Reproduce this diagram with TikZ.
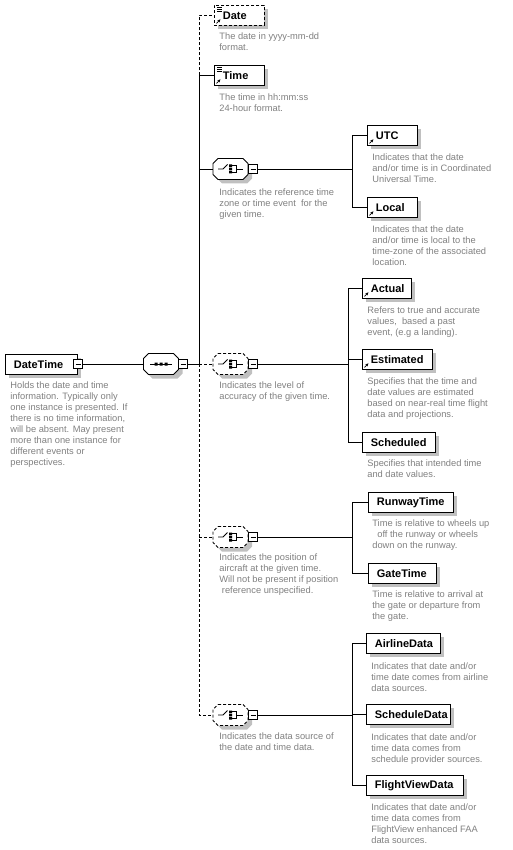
\documentclass[tikz,border=0pt]{standalone}
\usepackage{fontspec}
\setmainfont{Liberation Sans}
\usetikzlibrary{arrows.meta,shadows,calc}
\definecolor{descgray}{RGB}{128,128,128}
\definecolor{shadowgray}{RGB}{192,192,192}

% octagon with shadow, #1 centre, #2 border style
\newcommand{\octa}[2]{%
  \fill[shadowgray] ($(#1)+(4,4)$) ++(-12.5,-10.5) -- ++(25,0) -- ++(5,5) -- ++(0,11)
    -- ++(-5,5) -- ++(-25,0) -- ++(-5,-5) -- ++(0,-11) -- cycle;
  \draw[fill=white, #2] (#1) ++(-12.5,-10.5) -- ++(25,0) -- ++(5,5) -- ++(0,11)
    -- ++(-5,5) -- ++(-25,0) -- ++(-5,-5) -- ++(0,-11) -- cycle;}

\tikzset{
  boxshadow/.style={drop shadow={shadow xshift=4pt, shadow yshift=-4pt, fill=shadowgray, opacity=1}},
  elem/.style={draw, fill=white, boxshadow, font=\fontsize{11}{13}\selectfont\bfseries,
    minimum height=20pt, inner sep=0pt, anchor=north west, text width=#1, align=left,
    execute at begin node={\hspace*{8.5pt}}},
  refd/.style={path picture={
    \draw[solid, line width=.7pt, -{Stealth[length=3pt,width=3pt]}]
      ([shift={(2,-2)}]path picture bounding box.south west) -- ++(4,-4);}},
  refl/.style={path picture={
    \draw[solid, line width=.7pt, -{Stealth[length=3pt,width=3pt]}]
      ([shift={(2,-2)}]path picture bounding box.south west) -- ++(4,-4);
    \draw[solid, line width=.7pt] ([shift={(2.5,1.5)}]path picture bounding box.north west) -- ++(5,0)
      ([shift={(2.5,3.5)}]path picture bounding box.north west) -- ++(5,0)
      ([shift={(2.5,5.5)}]path picture bounding box.north west) -- ++(5,0);}},
  opt/.style={dash pattern=on 3pt off 2pt},
  desc/.style={anchor=north west, inner sep=0pt, align=left, text=descgray,
    font=\fontsize{9.3}{11}\selectfont},
  minus/.style={draw, solid, fill=white, minimum size=9pt, inner sep=0pt,
    path picture={\draw[solid] ([xshift=2pt]path picture bounding box.west) -- ([xshift=-2pt]path picture bounding box.east);}},
  octnode/.style={minimum width=35pt, minimum height=21pt, inner sep=0pt},
  choice/.style={octnode, path picture={
    \begin{scope}[shift={(path picture bounding box.center)}]
      \draw (-12.5,0) -- (-7.5,0) -- (-3,-4.5);
      \fill (-1.5,-4.5) rectangle (1.5,-2) (-1.5,-1.25) rectangle (1.5,1.25) (-1.5,2) rectangle (1.5,4.5);
      \draw (1.5,-3.5) -- (5.5,-3.5) -- (5.5,3.5) -- (1.5,3.5) (5.5,0) -- (12,0);
    \end{scope}}},
  seq/.style={octnode, path picture={
    \begin{scope}[shift={(path picture bounding box.center)}]
      \draw (-11,0) -- (11,0);
      \fill (-6.5,-1.5) rectangle (-3.5,1.5) (-1.5,-1.5) rectangle (1.5,1.5) (3.5,-1.5) rectangle (6.5,1.5);
    \end{scope}}}
}

\begin{document}
\begin{tikzpicture}[x=1pt, y=-1pt, line width=0.8pt]
  \useasboundingbox (0,0) rectangle (512,850);
  % root
  \node[elem=72pt] (datetime) at (5,354) {DateTime};
  \node[minus] (dtm) at (78,364) {};
  \node[desc] (ddatetime) at (10,381) {Holds the date and time\\information. Typically only\\one instance is presented. If\\there is no time information,\\will be absent. May present\\more than one instance for\\different events or\\perspectives.};
  \octa{161,364}{}
  \node[seq] (seq) at (161,364) {};
  \node[minus] (seqm) at (183,364) {};
  \coordinate (jm) at (199,364);
  % date and time
  \node[elem=50pt, refl, opt] (date) at (214,5) {Date};
  \node[desc] (ddate) at (219,32) {The date in yyyy-mm-dd\\format.};
  \node[elem=50pt, refl] (time) at (214,65) {Time};
  \node[desc] (dtime) at (219,93) {The time in hh:mm:ss\\24-hour format.};
  % time zone choice
  \octa{230.5,169}{}
  \node[choice] (tz) at (230.5,169) {};
  \node[minus] (tzm) at (253,169) {};
  \node[desc] (dtz) at (219,188) {Indicates the reference time\\zone or time event\ \ for the\\given time.};
  \coordinate (j1) at (352,169);
  \node[elem=50pt, refd] (utc) at (367,125) {UTC};
  \node[desc] (dutc) at (372,153) {Indicates that the date\\and/or time is in Coordinated\\Universal Time.};
  \node[elem=50pt, refd] (local) at (367,197) {Local};
  \node[desc] (dlocal) at (372,225) {Indicates that the date\\and/or time is local to the\\time-zone of the associated\\location.};
  % accuracy choice
  \octa{230.5,364}{opt}
  \node[choice] (acc) at (230.5,364) {};
  \node[minus] (accm) at (253,364) {};
  \node[desc] (dacc) at (219,381) {Indicates the level of\\accuracy of the given time.};
  \coordinate (j2) at (348,364);
  \node[elem=49pt, refd] (actual) at (362,278) {Actual};
  \node[desc] (dactual) at (367,306) {Refers to true and accurate\\values,\ \ based a past\\event, (e.g a landing).};
  \node[elem=70pt, refd] (estimated) at (362,349) {Estimated};
  \node[desc] (destimated) at (367,377) {Specifies that the time and\\date values are estimated\\based on near-real time flight\\data and projections.};
  \node[elem=73pt] (scheduled) at (362,432) {Scheduled};
  \node[desc] (dscheduled) at (367,459) {Specifies that intended time\\and date values.};
  % position choice
  \octa{230.5,537}{opt}
  \node[choice] (pos) at (230.5,537) {};
  \node[minus] (posm) at (253,537) {};
  \node[desc] (dpos) at (219,553) {Indicates the position of\\aircraft at the given time.\\Will not be present if position\\\hspace*{2.5pt}reference unspecified.};
  \coordinate (j3) at (352,537);
  \node[elem=85pt] (runway) at (368,492) {RunwayTime};
  \node[desc] (drunway) at (372,519) {Time is relative to wheels up\\\hspace*{5pt}off the runway or wheels\\down on the runway.};
  \node[elem=68pt] (gate) at (368,563) {GateTime};
  \node[desc] (dgate) at (372,590) {Time is relative to arrival at\\the gate or departure from\\the gate.};
  % source choice
  \octa{230.5,715}{opt}
  \node[choice] (src) at (230.5,715) {};
  \node[minus] (srcm) at (253,715) {};
  \node[desc] (dsrc) at (219,732) {Indicates the data source of\\the date and time data.};
  \coordinate (j4) at (352,715);
  \node[elem=74pt] (airline) at (366,633) {AirlineData};
  \node[desc] (dairline) at (371,662) {Indicates that date and/or\\time date comes from airline\\data sources.};
  \node[elem=84pt] (schedule) at (366,704) {ScheduleData};
  \node[desc] (dschedule) at (371,733) {Indicates that date and/or\\time data comes from\\schedule provider sources.};
  \node[elem=97pt] (flightview) at (366,775) {FlightViewData};
  \node[desc] (dflightview) at (371,803) {Indicates that date and/or\\time data comes from\\FlightView enhanced FAA\\data sources.};
  % connectors
  \draw (dtm.east) -- (seq.west);
  \draw (seqm.east) -- (jm);
  \draw (jm) |- (time.west);
  \draw[opt] (jm |- time.west) |- (date.west);
  \draw (jm) |- (tz.west);
  \draw[opt] (jm) -- (acc.west);
  \draw[opt] (jm) |- (src.west);
  \draw[opt] (jm |- pos.west) -- (pos.west);
  \draw (tzm.east) -- (j1);
  \draw (j1) |- (utc.west);
  \draw (j1) |- (local.west);
  \draw (accm.east) -- (j2);
  \draw (j2) |- (actual.west);
  \draw (j2) |- (estimated.west);
  \draw (j2) |- (scheduled.west);
  \draw (posm.east) -- (j3);
  \draw (j3) |- (runway.west);
  \draw (j3) |- (gate.west);
  \draw (srcm.east) -- (j4);
  \draw (j4) |- (airline.west);
  \draw (j4) |- (schedule.west);
  \draw (j4) |- (flightview.west);
\end{tikzpicture}
\end{document}
